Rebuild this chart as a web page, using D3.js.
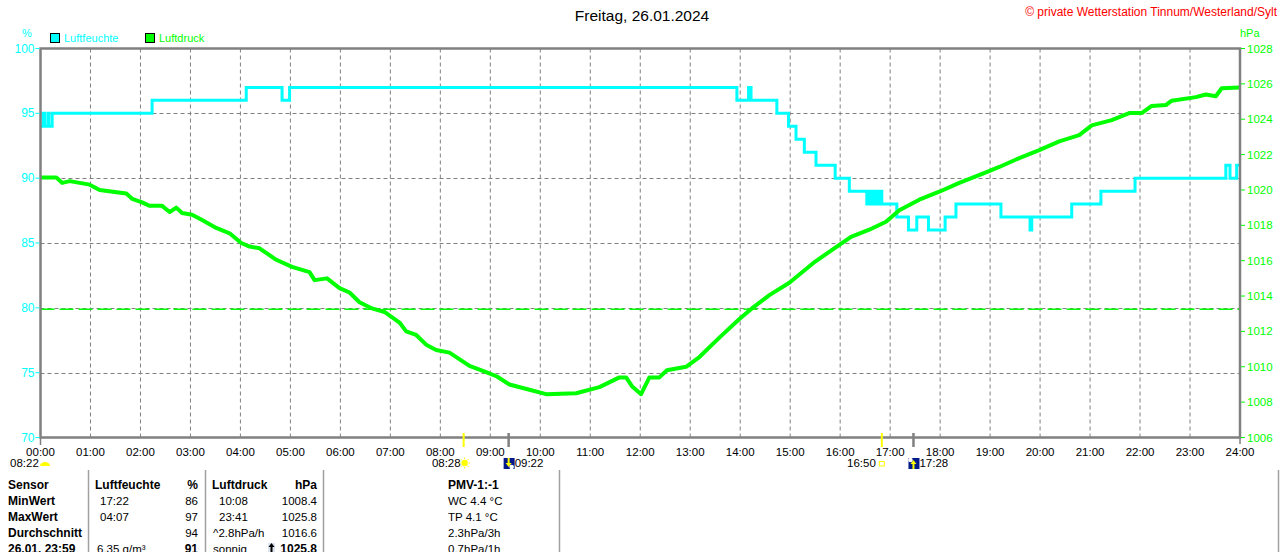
<!DOCTYPE html>
<html>
<head>
<meta charset="utf-8">
<script src="https://cdn.jsdelivr.net/npm/d3@7"></script>
<style>
  body { margin: 0; background: #fff; }
  svg { display: block; font-family: "Liberation Sans", Arial, sans-serif; }
</style>
</head>
<body>
<svg id="chart" width="1280" height="552"></svg>
<script>
var width = 1280, height = 552;
var margin = {left: 40.5, right: 40, top: 48.5, bottom: 114.5};

// Luftdruck (hPa)
var pressTimes = ["00:00","00:19","00:26","00:35","00:59","01:11","01:43","01:50","02:02","02:11","02:26","02:35","02:43","02:50","03:02","03:14","03:31","03:47","04:01","04:11","04:23","04:43","05:02","05:23","05:29","05:44","05:59","06:11","06:23","06:38","06:53","07:11","07:19","07:31","07:43","07:55","08:11","08:35","08:55","09:08","09:23","09:47","10:07","10:43","11:11","11:35","11:43","11:50","12:01","12:11","12:23","12:32","12:55","13:11","13:35","13:59","14:14","14:35","14:59","15:30","16:13","16:35","16:55","17:11","17:35","17:59","18:23","18:55","19:11","19:35","19:59","20:23","20:47","21:02","21:26","21:47","22:02","22:14","22:31","22:38","23:07","23:19","23:31","23:38","23:59"];
var pressValues = [1020.7,1020.7,1020.4,1020.5,1020.3,1020.0,1019.8,1019.5,1019.3,1019.1,1019.1,1018.75,1019.0,1018.7,1018.6,1018.3,1017.85,1017.55,1017.0,1016.8,1016.7,1016.05,1015.65,1015.35,1014.9,1015.0,1014.45,1014.2,1013.65,1013.3,1013.1,1012.5,1012.0,1011.8,1011.25,1010.95,1010.8,1010.05,1009.7,1009.45,1009.0,1008.7,1008.45,1008.5,1008.85,1009.4,1009.4,1008.9,1008.45,1009.4,1009.4,1009.8,1010.0,1010.55,1011.65,1012.7,1013.3,1014.05,1014.75,1015.95,1017.35,1017.75,1018.2,1018.85,1019.45,1019.9,1020.4,1021.0,1021.3,1021.8,1022.25,1022.75,1023.1,1023.65,1023.95,1024.35,1024.35,1024.75,1024.8,1025.05,1025.25,1025.4,1025.3,1025.75,1025.8];

// Luftfeuchte (%), steps
var humTimes = ["00:00","00:03","00:05","00:09","00:10","00:14","02:14","04:07","04:50","04:59","13:56","14:10","14:13","14:44","14:58","15:07","15:17","15:31","15:54","16:11","16:32","16:34","16:37","16:39","16:42","16:44","16:47","16:49","16:50","17:08","17:22","17:32","17:46","18:06","18:19","19:13","19:48","19:50","20:38","21:13","21:54","23:43","23:48","23:56","24:00"];
var humValues = [94,95,94,95,94,95,96,97,96,97,96,97,96,95,94,93,92,91,90,89,88,89,88,89,88,89,88,89,88,87,86,87,86,87,88,87,86,87,88,89,90,91,90,91,91];

var humTicks = [100,95,90,85,80,75,70];
var pressTicks = [1028,1026,1024,1022,1020,1018,1016,1014,1012,1010,1008,1006];
var hourTicks = d3.range(0, 25);
var normalPressure = 1013.25;

// Sonne / Mond
var markers = [
  {time: "08:28", kind: "sunrise", label: "08:28"},
  {time: "09:22", kind: "moonset", label: "09:22"},
  {time: "16:50", kind: "sunset", label: "16:50"},
  {time: "17:28", kind: "moonrise", label: "17:28"}
];

// Tabelle
var tableRows = [
  ["Sensor", "Luftfeuchte", "%", "Luftdruck", "hPa", "PMV-1:-1"],
  ["MinWert", "17:22", "86", "10:08", "1008.4", "WC 4.4 °C"],
  ["MaxWert", "04:07", "97", "23:41", "1025.8", "TP 4.1 °C"],
  ["Durchschnitt", "", "94", "^2.8hPa/h", "1016.6", "2.3hPa/3h"],
  ["26.01. 23:59", "6.35 g/m³", "91", "sonnig", "1025.8", "0.7hPa/1h"]
];

var CYAN = "#00ffff", GREEN = "#00ff00", GRID = "#808080";

function toHours(s) { var p = s.split(":"); return +p[0] + p[1] / 60; }

var svg = d3.select("#chart");
var x = d3.scaleLinear().domain([0, 24]).range([margin.left, width - margin.right]);
var yH = d3.scaleLinear().domain([70, 100]).range([height - margin.bottom, margin.top]);
var yP = d3.scaleLinear().domain([1006, 1028]).range([height - margin.bottom, margin.top]);

// grid
svg.append("g").selectAll("line").data(hourTicks.slice(1, 24)).enter().append("line")
  .attr("x1", d => x(d)).attr("x2", d => x(d))
  .attr("y1", yH(100)).attr("y2", yH(70))
  .attr("stroke", GRID).attr("stroke-dasharray", "4,3");
svg.append("g").selectAll("line").data(humTicks.slice(1, 6)).enter().append("line")
  .attr("x1", x(0)).attr("x2", x(24))
  .attr("y1", d => Math.round(yH(d)) + 0.5).attr("y2", d => Math.round(yH(d)) + 0.5)
  .attr("stroke", GRID).attr("stroke-dasharray", "4,3");

svg.append("line")
  .attr("x1", x(0)).attr("x2", x(24))
  .attr("y1", yP(normalPressure)).attr("y2", yP(normalPressure))
  .attr("stroke", GREEN).attr("stroke-width", 1.5).attr("stroke-dasharray", "14,5");

// data lines
var hum = humTimes.map((t, i) => ({t: toHours(t), v: humValues[i]}));
var press = pressTimes.map((t, i) => ({t: toHours(t), v: pressValues[i]}));

svg.append("path").datum(hum)
  .attr("fill", "none").attr("stroke", CYAN).attr("stroke-width", 3)
  .attr("d", d3.line().curve(d3.curveStepAfter).x(d => x(d.t)).y(d => yH(d.v)));

svg.append("path").datum(press)
  .attr("fill", "none").attr("stroke", GREEN).attr("stroke-width", 4).attr("stroke-linejoin", "round")
  .attr("d", d3.line().x(d => x(d.t)).y(d => yP(d.v)));

// frame
svg.append("rect")
  .attr("x", x(0)).attr("y", yH(100))
  .attr("width", x(24) - x(0)).attr("height", yH(70) - yH(100))
  .attr("fill", "none").attr("stroke", GRID).attr("stroke-width", 2.5);

// left axis
var left = svg.append("g");
left.selectAll("text").data(humTicks).enter().append("text")
  .attr("x", x(0) - 6).attr("y", d => yH(d) + 4)
  .attr("text-anchor", "end").attr("fill", CYAN).attr("font-size", 12)
  .text(d => d);
left.selectAll("line").data(humTicks).enter().append("line")
  .attr("x1", x(0) - 5).attr("x2", x(0) - 1)
  .attr("y1", d => yH(d)).attr("y2", d => yH(d)).attr("stroke", CYAN);
svg.append("text").attr("x", 27).attr("y", 37).attr("text-anchor", "middle")
  .attr("fill", CYAN).attr("font-size", 11).text("%");

// right axis
var right = svg.append("g");
right.selectAll("text").data(pressTicks).enter().append("text")
  .attr("x", x(24) + 7).attr("y", d => yP(d) + 4)
  .attr("fill", GREEN).attr("font-size", 11.5)
  .text(d => d);
right.selectAll("line").data(pressTicks).enter().append("line")
  .attr("x1", x(24) + 1).attr("x2", x(24) + 5)
  .attr("y1", d => yP(d)).attr("y2", d => yP(d)).attr("stroke", GREEN);
svg.append("text").attr("x", 1240).attr("y", 37)
  .attr("fill", GREEN).attr("font-size", 11).text("hPa");

// bottom axis
svg.append("g").selectAll("text").data(hourTicks).enter().append("text")
  .attr("x", d => x(d)).attr("y", 456)
  .attr("text-anchor", "middle").attr("font-size", 11.5).attr("fill", "#000")
  .text(d => d3.format("02")(d) + ":00");
svg.append("line").attr("x1", x(0)).attr("x2", x(0)).attr("y1", 438).attr("y2", 445).attr("stroke", GRID).attr("stroke-width", 1.5);
svg.append("line").attr("x1", x(24)).attr("x2", x(24)).attr("y1", 438).attr("y2", 444).attr("stroke", GRID).attr("stroke-width", 1.5);

// sun / moon markers
var mk = svg.append("g");
markers.forEach(function(m) {
  var mx = x(toHours(m.time));
  var isSun = m.kind.indexOf("sun") === 0;
  mk.append("line").attr("x1", mx).attr("x2", mx).attr("y1", 433).attr("y2", 447)
    .attr("stroke", isSun ? "#ffff00" : GRID).attr("stroke-width", isSun ? 2 : 2.5);
  if (m.kind === "sunrise") {
    mk.append("text").attr("x", mx - 3).attr("y", 467).attr("text-anchor", "end").attr("font-size", 11.5).text(m.label);
    mk.append("circle").attr("cx", mx + 1).attr("cy", 463).attr("r", 3.2).attr("fill", "#ffff00");
    d3.range(8).forEach(function(k) {
      var a = k * Math.PI / 4;
      mk.append("line").attr("x1", mx + 1 + Math.cos(a) * 4).attr("y1", 463 + Math.sin(a) * 4)
        .attr("x2", mx + 1 + Math.cos(a) * 5.5).attr("y2", 463 + Math.sin(a) * 5.5)
        .attr("stroke", "#ffff00").attr("stroke-width", 1);
    });
  } else if (m.kind === "sunset") {
    mk.append("text").attr("x", mx - 6).attr("y", 467).attr("text-anchor", "end").attr("font-size", 11.5).text(m.label);
    mk.append("rect").attr("x", mx - 2.5).attr("y", 461.5).attr("width", 5).attr("height", 4.5)
      .attr("fill", "none").attr("stroke", "#ffff00").attr("stroke-width", 1);
  } else {
    var up = m.kind === "moonrise";
    mk.append("rect").attr("x", mx - 5).attr("y", 458).attr("width", 11).attr("height", 11).attr("fill", "#001a8c");
    mk.append("circle").attr("cx", up ? mx - 3 : mx + 3).attr("cy", up ? 460 : 467).attr("r", 2.3).attr("fill", "#fff");
    mk.append("path")
      .attr("d", up ? `M${mx},460 L${mx - 3},464 L${mx - 1},464 L${mx - 1},469 L${mx + 1},469 L${mx + 1},464 L${mx + 3},464 Z`
                    : `M${mx},467 L${mx - 3},463 L${mx - 1},463 L${mx - 1},458 L${mx + 1},458 L${mx + 1},463 L${mx + 3},463 Z`)
      .attr("fill", "#ffff00");
    mk.append("text").attr("x", mx + 6).attr("y", 467).attr("font-size", 11.5).text(m.label);
  }
});

// 08:22 at left
svg.append("text").attr("x", 10).attr("y", 467).attr("font-size", 11.5).text("08:22");
svg.append("path").attr("d", "M40,466 A5,4 0 0 1 50,466 Z").attr("fill", "#ffff00");

// title and copyright
svg.append("text").attr("x", 642).attr("y", 21).attr("text-anchor", "middle")
  .attr("font-size", 15.5).attr("fill", "#000").text("Freitag, 26.01.2024");
svg.append("text").attr("x", 1277).attr("y", 16).attr("text-anchor", "end")
  .attr("font-size", 12).attr("fill", "#ff0000").text("© private Wetterstation Tinnum/Westerland/Sylt");

// legend
var legend = [{name: "Luftfeuchte", color: CYAN, x: 50}, {name: "Luftdruck", color: GREEN, x: 145}];
var lg = svg.append("g").selectAll("g").data(legend).enter().append("g");
lg.append("rect").attr("x", d => d.x + 0.5).attr("y", 33.5).attr("width", 9).attr("height", 9)
  .attr("fill", d => d.color).attr("stroke", "#000");
lg.append("text").attr("x", d => d.x + 14).attr("y", 42).attr("font-size", 11)
  .attr("fill", d => d.color).text(d => d.name);

// table separators
[88.5, 205.5, 323.5, 559.5, 1278.5].forEach(function(sx) {
  svg.append("line").attr("x1", sx).attr("x2", sx).attr("y1", 470).attr("y2", 552)
    .attr("stroke", "#a0a0a0").attr("stroke-width", 1.5);
});

// table text
var cols = [
  {x: 8, anchor: "start"},
  {x: 100, anchor: "start"},
  {x: 198, anchor: "end"},
  {x: 219, anchor: "start"},
  {x: 317, anchor: "end"},
  {x: 448, anchor: "start"}
];
var tg = svg.append("g");
tableRows.forEach(function(row, r) {
  var by = 489 + r * 16;
  row.forEach(function(txt, c) {
    var bold = r === 0 || c === 0 || (r === 4 && (c === 2 || c === 4));
    var cx = cols[c].x;
    if (r === 0 && (c === 1 || c === 3)) cx = c === 1 ? 95 : 212;
    if (r === 3 && c === 3) cx = 213;
    if (r === 4 && c === 1) cx = 97;
    if (r === 4 && c === 3) cx = 213;
    tg.append("text").attr("x", cx).attr("y", by)
      .attr("text-anchor", cols[c].anchor)
      .attr("font-size", bold ? 12 : 11.5)
      .attr("font-weight", bold ? "bold" : "normal")
      .attr("fill", "#000").text(txt);
  });
});
// small trend icon before last pressure value
svg.append("rect").attr("x", 268).attr("y", 543).attr("width", 7).attr("height", 9).attr("fill", "#dde4f0");
svg.append("path").attr("d", "M271.5,543 L268.5,547 L270.5,547 L270.5,552 L272.5,552 L272.5,547 L274.5,547 Z").attr("fill", "#000");
</script>
</body>
</html>
